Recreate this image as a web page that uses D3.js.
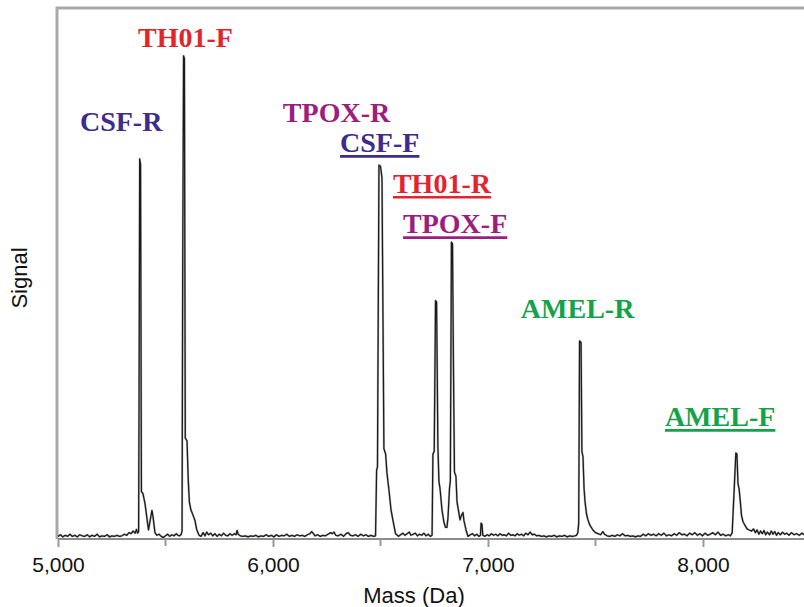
<!DOCTYPE html>
<html>
<head>
<meta charset="utf-8">
<script src="https://cdn.jsdelivr.net/npm/d3@7"></script>
<style>
  html, body { margin: 0; padding: 0; background: #fff; }
  svg { display: block; }
</style>
</head>
<body>
<svg id="chart" width="804" height="607"></svg>
<script>
// ---- Data ----
const masses = [
  5000,5012,5022,5034,5045,5056,5066,5078,5090,5101,5113,5124,5136,5147,5158,5170,5182,5193,5205,5216,
  5228,5240,5251,5262,5274,5286,5297,5309,5320,5330,5340,5349,5358,5365,5370,
  5375,5377,5380,5384,5388,5395,5405,5414,5421,5430,5437,5442,5451,5460,5470,5480,5490,5500,5510,5520,
  5530,5540,5550,5558,5566,5572,5577,
  5580,5584,5588,5592,5600,5606,5611,5618,5628,5637,5645,5656,5665,5675,5684,5692,5700,5710,5720,5730,
  5740,5750,5760,5770,5780,5790,5800,5810,5820,5828,5833,5838,5848,5860,5872,5884,5896,5908,5920,5932,
  5944,5956,5968,5980,5992,6004,6016,6028,6040,6052,6064,6076,6088,6100,6112,6124,6136,6148,6160,6172,
  6180,6188,6196,6208,6220,6232,6244,6256,6268,6276,6284,6292,6304,6316,6328,6340,6350,6360,6372,6384,
  6396,6408,6420,6432,6444,6456,6468,6477,
  6482,6486,6493,6500,6507,6516,6524,6530,6540,6549,6558,6570,6584,6594,6604,6614,6624,6634,6642,6652,
  6662,6672,6682,6692,6702,6712,6722,6732,6740,
  6744,6750,6756,6761,6767,6772,6777,6786,6795,6802,6809,6814,6821,6825,6830,6835,6840,6844,6851,6856,
  6863,6870,6877,6884,6888,6898,6907,6918,6928,6938,6948,6958,6965,6968,6972,6976,6986,6996,7006,7016,
  7026,7036,7046,7056,7066,7076,7086,7096,7106,7116,7126,7136,7146,7156,7166,7176,7186,7196,7206,7216,
  7226,7236,7248,7260,7272,7284,7296,7308,7320,7332,7344,7356,7368,7380,7392,7404,7412,7418,
  7422,7426,7433,7437,7442,7447,7451,7458,7465,7474,7488,7500,7512,7524,7534,7542,7554,7566,7578,7590,
  7602,7614,7626,7638,7650,7662,7674,7686,7698,7710,7722,7734,7746,7758,7770,7782,7794,7806,7818,7830,
  7842,7854,7866,7878,7890,7902,7914,7926,7938,7950,7962,7974,7986,7998,8010,8022,8034,8046,8058,8070,
  8082,8094,8106,8118,8128,8136,
  8146,8153,8158,8163,8168,8174,8179,8186,8195,8205,8215,8226,8235,8244,8252,8260,8268,8276,8284,8292,
  8300,8310,8318,8326,8334,8342,8350,8360,8370,8380,8390,8400,8412,8424,8436,8448,8460,8472
];
const signals = [
  0.5,0.8,0.4,0.7,0.5,0.9,0.5,0.7,0.4,0.8,0.6,0.5,0.8,0.4,0.7,0.5,0.9,0.4,0.6,0.5,
  0.8,0.4,0.6,0.5,0.7,0.5,0.6,0.9,0.7,1.2,1.0,1.5,1.1,1.8,1.1,
  1.4,25,71.6,70.5,8.9,8.6,6.6,3.8,1.7,3.8,5.4,4.2,1.2,0.7,0.9,0.5,0.3,0.6,0.9,0.5,
  0.8,0.6,1.0,0.7,0.6,0.8,1.5,
  50,91.0,90.5,19,18.5,11,7,5.5,4.5,3.5,1.8,0.7,0.5,1.2,0.6,1.3,0.8,1.1,0.6,1.0,
  0.5,0.9,0.6,1.1,0.7,0.6,1.0,0.7,1.0,0.8,1.6,0.9,0.6,0.5,0.6,0.4,0.6,0.5,0.7,0.4,
  0.6,0.5,0.8,0.5,0.7,0.4,0.8,0.5,0.7,0.6,0.9,0.5,0.7,0.5,0.8,0.6,0.7,0.5,0.8,1.0,
  1.4,1.0,0.6,0.8,0.5,0.7,0.6,0.9,1.2,1.0,1.3,0.7,0.6,0.9,0.5,1.0,1.2,0.7,0.6,0.8,
  0.5,0.9,0.6,0.8,0.5,0.7,0.5,0.6,
  13.0,13.5,70.4,70.2,68,17,16,12.5,9.0,5.5,3.5,1.0,0.5,0.8,1.1,0.7,1.0,1.3,0.7,0.9,
  1.1,0.6,0.9,0.7,1.1,0.6,0.9,0.5,0.7,
  16,16.5,44.9,44.6,17.5,10.8,9.5,5.5,3.2,2.2,2.2,4,9.5,11,55.9,55.6,30,12.6,11.8,7,
  5.3,3.6,4.5,5,3.5,1.7,0.5,0.8,1.0,0.6,0.9,0.5,0.7,3.0,2.8,0.7,0.5,0.8,0.6,1.0,
  0.7,0.9,0.6,1.0,0.7,0.8,0.6,1.1,0.7,0.8,0.6,1.0,0.7,0.9,0.6,1.1,0.8,1.3,0.8,0.9,
  0.6,0.7,0.5,0.6,0.4,0.6,0.5,0.7,0.4,0.6,0.5,0.7,0.4,0.6,0.5,0.6,0.7,1.2,
  3,37.3,37.0,16.5,15.5,9.5,7.2,4.8,3.6,2.6,1.7,1.2,1.0,0.8,1.4,0.9,0.6,0.5,0.7,0.5,
  0.8,0.6,1.0,0.6,0.7,0.5,0.6,0.4,0.6,0.5,0.9,0.6,1.0,0.7,0.9,0.6,1.0,0.7,1.1,0.6,
  0.8,0.6,1.0,0.7,1.2,0.8,0.9,0.6,1.1,0.8,1.2,0.7,1.0,0.6,1.1,0.7,0.9,1.2,0.8,1.3,
  0.7,0.9,0.6,0.8,0.6,1.2,
  10,16.2,16.0,10.4,9.5,7,4.5,3.3,2.6,1.9,1.7,1.5,1.9,1.2,1.7,0.9,1.5,1.0,1.6,0.8,
  1.3,0.8,1.5,0.9,1.4,0.7,1.2,0.8,1.3,0.9,1.1,0.7,1.2,0.8,1.0,0.7,1.1,0.8
];

const xTickValues = [5000, 6000, 7000, 8000];
const xMinorTicks = [5500, 6500, 7500];

const labelNames   = ["CSF-R", "TH01-F", "TPOX-R", "CSF-F", "TH01-R", "TPOX-F", "AMEL-R", "AMEL-F"];
const labelMass    = [5102, 5372, 6046, 6312, 6558, 6605, 7153, 7823];
const labelSignal  = [76.8, 92.7, 78.5, 72.9, 65.2, 57.6, 41.6, 21.3];
const labelUnder   = [false, false, false, true, true, true, false, true];
const labelColors  = ["#3d2b8e", "#e2252c", "#9b1e80", "#3d2b8e", "#e2252c", "#9b1e80", "#14a24a", "#14a24a"];

(function () {
  const svg = d3.select("#chart");
  const W = 804;
  const mLeft = 58, mTop = 8, mBottom = 539, mRight = 804;

  const x = d3.scaleLinear().domain([5000, 8470]).range([mLeft, mRight]);
  const y = d3.scaleLinear().domain([0, 100]).range([mBottom, mTop]);

  // frame (left and top)
  svg.append("path")
    .attr("d", `M${mLeft - 1},${mBottom} L${mLeft - 1},${mTop} L${W + 5},${mTop}`)
    .attr("fill", "none")
    .attr("stroke", "#a9a9a9")
    .attr("stroke-width", 3);

  // x axis
  const xAxis = d3.axisBottom(x)
    .tickValues(xTickValues)
    .tickFormat(d3.format(","))
    .tickSize(8)
    .tickPadding(10);
  const gx = svg.append("g")
    .attr("transform", `translate(0,${mBottom})`)
    .call(xAxis);
  gx.select(".domain").attr("stroke", "#666").attr("stroke-width", 1.6).attr("d", `M${mLeft},0H${W + 5}`);
  gx.selectAll(".tick line").attr("stroke", "#999").attr("stroke-width", 2);
  gx.selectAll(".tick text")
    .attr("fill", "#111")
    .style("font-family", "'Liberation Sans', Arial, sans-serif")
    .style("font-size", "21px");

  // minor ticks
  svg.append("g")
    .selectAll("line")
    .data(xMinorTicks)
    .join("line")
    .attr("x1", d => x(d)).attr("x2", d => x(d))
    .attr("y1", mBottom).attr("y2", mBottom + 7)
    .attr("stroke", "#999").attr("stroke-width", 2);

  // axis titles
  svg.append("text")
    .attr("x", 414).attr("y", 603)
    .attr("text-anchor", "middle")
    .style("font-family", "'Liberation Sans', Arial, sans-serif")
    .style("font-size", "22px")
    .attr("fill", "#111")
    .text("Mass (Da)");

  svg.append("text")
    .attr("transform", "translate(27,278) rotate(-90)")
    .attr("text-anchor", "middle")
    .style("font-family", "'Liberation Sans', Arial, sans-serif")
    .style("font-size", "22px")
    .attr("fill", "#111")
    .text("Signal");

  // spectrum
  const n = Math.min(masses.length, signals.length);
  const pts = d3.range(n).map(i => [masses[i], signals[i]]);
  const line = d3.line().x(d => x(d[0])).y(d => y(d[1]));

  svg.append("path")
    .datum(pts)
    .attr("d", line)
    .attr("fill", "none")
    .attr("stroke", "#9a9a9a")
    .attr("stroke-width", 2.2)
    .attr("stroke-linejoin", "round")
    .attr("opacity", 0.6);

  svg.append("path")
    .datum(pts)
    .attr("d", line)
    .attr("fill", "none")
    .attr("stroke", "#1b1b1b")
    .attr("stroke-width", 1.3)
    .attr("stroke-linejoin", "round");

  // peak labels
  const lbl = svg.append("g");
  labelNames.forEach((name, i) => {
    const t = lbl.append("text")
      .attr("x", x(labelMass[i]))
      .attr("y", y(labelSignal[i]))
      .attr("fill", labelColors[i])
      .style("font-family", "'Liberation Serif', 'Times New Roman', serif")
      .style("font-weight", "bold")
      .style("font-size", "28px")
      .text(name);
    if (labelUnder[i]) {
      const w = t.node().getComputedTextLength();
      lbl.append("line")
        .attr("x1", x(labelMass[i]))
        .attr("x2", x(labelMass[i]) + w)
        .attr("y1", y(labelSignal[i]) + 4.5)
        .attr("y2", y(labelSignal[i]) + 4.5)
        .attr("stroke", labelColors[i])
        .attr("stroke-width", 2.6);
    }
  });
})();
</script>
</body>
</html>
